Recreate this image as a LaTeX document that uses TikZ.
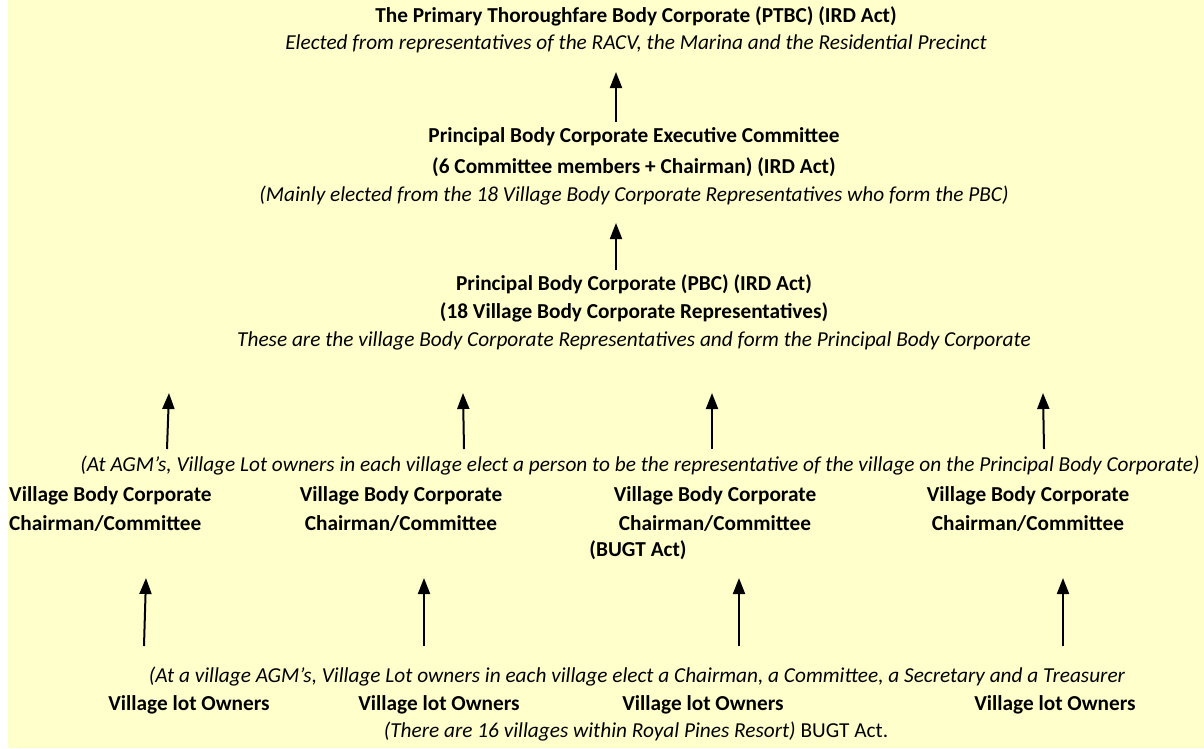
\documentclass[tikz,border=0pt]{standalone}
\usepackage{fontspec}
\setmainfont{Carlito}
\usepackage{tikz}
\usetikzlibrary{positioning, arrows.meta}
\definecolor{paleyellow}{HTML}{FFFFCC}

\begin{document}
\begin{tikzpicture}[x=1pt,y=-1pt,
  hd/.style={font=\bfseries\fontsize{21.3}{29}\selectfont,align=center,inner sep=0pt},
  note/.style={font=\itshape\fontsize{21.3}{29}\selectfont,inner sep=0pt},
  up/.style={-{Triangle[width=12pt,length=16pt]},line width=2pt}]

% page and background
\fill[white] (0,0) rectangle (1204,748);
\fill[paleyellow] (8,0) rectangle (1204,748);

% upper tiers
\node[hd] (ptbc) at (636,16) {The Primary Thoroughfare Body Corporate (PTBC) (IRD Act)};
\node[note] (ptbcn) at (636,44) {Elected from representatives of the RACV, the Marina and the Residential Precinct};
\node[hd] (exec) at (634,137) {Principal Body Corporate Executive Committee};
\node[hd] (exec2) at (634,167) {(6 Committee members + Chairman) (IRD Act)};
\node[note] (execn) at (634,196) {(Mainly elected from the 18 Village Body Corporate Representatives who form the PBC)};
\node[hd] (pbc) at (634,284) {Principal Body Corporate (PBC) (IRD Act)};
\node[hd] (pbc2) at (634,312) {(18 Village Body Corporate Representatives)};
\node[note] (pbcn) at (634,341) {These are the village Body Corporate Representatives and form the Principal Body Corporate};

\draw[up] (616,122) coordinate (e0) -- (616,72) coordinate (p0);
\draw[up] (616,270) coordinate (b0) -- (616,223) coordinate (x0);

% village body corporates
\node[note] (agm) at (640,466) {(At AGM’s, Village Lot owners in each village elect a person to be the representative of the village on the Principal Body Corporate)};
\node[hd,align=left,anchor=west] (vbc1) at (9,509) {Village Body Corporate\\Chairman/Committee};
\node[hd] (vbc2) at (401,509) {Village Body Corporate\\Chairman/Committee};
\node[hd] (vbc3) at (715,509) {Village Body Corporate\\Chairman/Committee};
\node[hd] (bugt) at (638,550) {(BUGT Act)};
\node[hd] (vbc4) at (1028,509) {Village Body Corporate\\Chairman/Committee};

\foreach \n/\x/\t in {1/167/169,2/464/463,3/712/712,4/1044/1043}{
  \coordinate (r\n) at (\x,449);
  \coordinate (rt\n) at (\t,393);
  \draw[up] (r\n) -- (rt\n);
}

% lot owners
\node[note] (own) at (637,677) {(At a village AGM’s, Village Lot owners in each village elect a Chairman, a Committee, a Secretary and a Treasurer};
\foreach \n/\x in {1/189,2/439,3/703,4/1055}{
  \node[hd] (lot\n) at (\x,705) {Village lot Owners};
}
\node[note] (count) at (636,732) {(There are 16 villages within Royal Pines Resort) \upshape BUGT Act.};

\foreach \n/\x/\t in {1/144/146,2/424/424,3/739/739,4/1063/1063}{
  \coordinate (o\n) at (\x,646);
  \coordinate (ot\n) at (\t,578);
  \draw[up] (o\n) -- (ot\n);
}
\end{tikzpicture}
\end{document}
